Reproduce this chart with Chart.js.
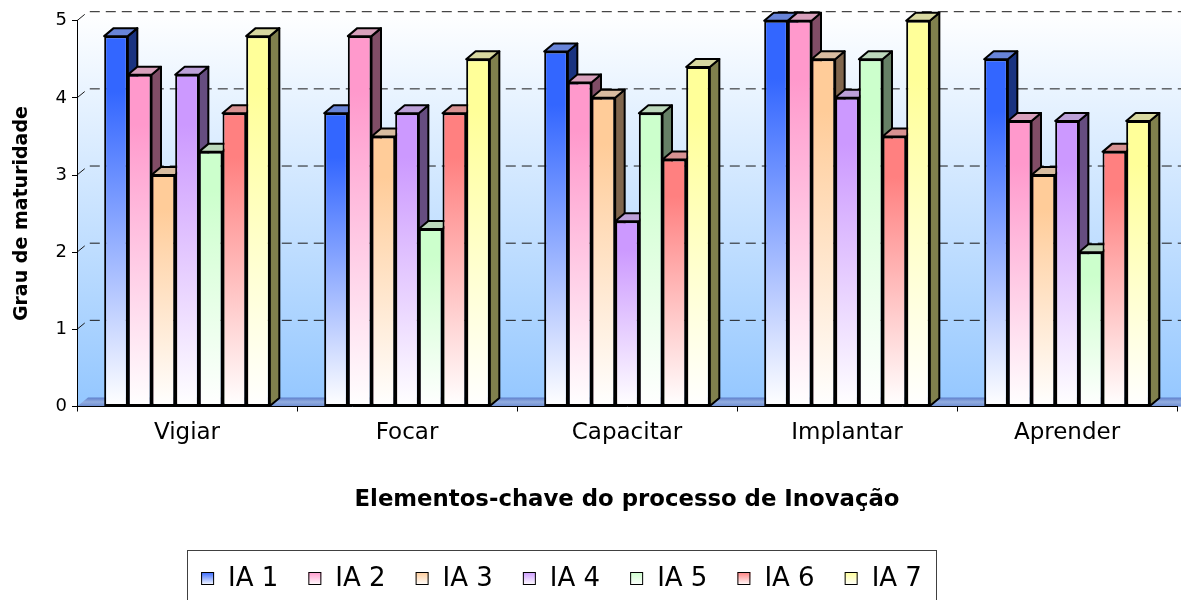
<!DOCTYPE html>
<html>
<head>
<meta charset="utf-8">
<script src="https://cdn.jsdelivr.net/npm/chart.js@4.4.1/dist/chart.umd.min.js"></script>
<style>
  html, body { margin: 0; padding: 0; background: #ffffff; }
  #wrap { width: 1181px; height: 600px; }
</style>
</head>
<body>
<div id="wrap"><canvas id="chart" width="1181" height="600"></canvas></div>
<script>
// Elementos-chave do processo de inovação: grau de maturidade por IA
const categories = ['Vigiar', 'Focar', 'Capacitar', 'Implantar', 'Aprender'];
const seriesNames = ['IA 1', 'IA 2', 'IA 3', 'IA 4', 'IA 5', 'IA 6', 'IA 7'];
const ia1 = [4.8, 3.8, 4.6, 5.0, 4.5];
const ia2 = [4.3, 4.8, 4.2, 5.0, 3.7];
const ia3 = [3.0, 3.5, 4.0, 4.5, 3.0];
const ia4 = [4.3, 3.8, 2.4, 4.0, 3.7];
const ia5 = [3.3, 2.3, 3.8, 4.5, 2.0];
const ia6 = [3.8, 3.8, 3.2, 3.5, 3.3];
const ia7 = [4.8, 4.5, 4.4, 5.0, 3.7];
const seriesColors = ['#3366FF', '#FF99CC', '#FFCC99', '#CC99FF', '#CCFFCC', '#FF8080', '#FFFF99'];
const seriesValues = [ia1, ia2, ia3, ia4, ia5, ia6, ia7];

const FONT = 'DejaVu Sans';
const BAR_DEPTH = { dx: 9.5, dy: -8 };   // oblique depth of each column
const WALL_DEPTH = { dx: 11, dy: -9 };   // back wall / floor depth

function rgb(hex) {
  const n = parseInt(hex.slice(1), 16);
  return [(n >> 16) & 255, (n >> 8) & 255, n & 255];
}
function toHex(c) {
  return '#' + c.map(v => Math.max(0, Math.min(255, Math.round(v))).toString(16).padStart(2, '0')).join('');
}
function shade(hex, f) { return toHex(rgb(hex).map(v => v * f)); }
function mix(hex, other, t) {
  const a = rgb(hex), b = rgb(other);
  return toHex(a.map((v, i) => v + (b[i] - v) * t));
}

// front face: colour at the top of the column fading to white at the floor
function frontGradient(color) {
  return (ctx) => {
    const chart = ctx.chart;
    const y = chart.scales && chart.scales.y;
    if (ctx.type !== 'data' || !y || !chart.chartArea) return color;
    const top = y.getPixelForValue(ctx.parsed.y);
    const bottom = y.getPixelForValue(0);
    const g = chart.ctx.createLinearGradient(0, top, 0, bottom);
    g.addColorStop(0, color);
    g.addColorStop(0.15, color);
    g.addColorStop(1, '#ffffff');
    return g;
  };
}

const datasets = seriesNames.map((name, i) => ({
  label: name,
  data: seriesValues[i],
  baseColor: seriesColors[i],
  backgroundColor: frontGradient(seriesColors[i]),
  borderColor: '#000000',
  borderWidth: 2,
  borderSkipped: false,
  barPercentage: 1.0,
  categoryPercentage: 0.753
}));

const depthPlugin = {
  id: 'depthPlugin',
  beforeDraw(chart) {
    const { ctx, chartArea: a } = chart;
    const yScale = chart.scales.y;
    const right = chart.width;
    ctx.save();
    // back and side wall
    const wallTop = a.top + WALL_DEPTH.dy;
    const wall = ctx.createLinearGradient(0, wallTop, 0, a.bottom + WALL_DEPTH.dy);
    wall.addColorStop(0, '#ffffff');
    wall.addColorStop(1, '#96c8ff');
    ctx.fillStyle = wall;
    ctx.beginPath();
    ctx.moveTo(a.left, a.top);
    ctx.lineTo(a.left + WALL_DEPTH.dx, wallTop);
    ctx.lineTo(right, wallTop);
    ctx.lineTo(right, a.bottom);
    ctx.lineTo(a.left, a.bottom);
    ctx.closePath();
    ctx.fill();
    // floor
    const fy = a.bottom + WALL_DEPTH.dy;
    const floor = ctx.createLinearGradient(0, fy, 0, a.bottom);
    floor.addColorStop(0, '#5f80cc');
    floor.addColorStop(0.5, '#93addf');
    floor.addColorStop(1, '#6a8bd2');
    ctx.fillStyle = floor;
    ctx.beginPath();
    ctx.moveTo(a.left, a.bottom);
    ctx.lineTo(a.left + WALL_DEPTH.dx, fy);
    ctx.lineTo(right, fy);
    ctx.lineTo(right, a.bottom);
    ctx.closePath();
    ctx.fill();
    // dashed gridlines on the back wall
    ctx.strokeStyle = '#1a1a1a';
    ctx.lineWidth = 1;
    ctx.setLineDash([10, 6]);
    yScale.ticks.forEach(t => {
      if (t.value === 0) return;
      const py = yScale.getPixelForValue(t.value);
      ctx.beginPath();
      ctx.moveTo(a.left, py);
      ctx.lineTo(a.left + WALL_DEPTH.dx, py + WALL_DEPTH.dy);
      ctx.lineTo(right, py + WALL_DEPTH.dy);
      ctx.stroke();
    });
    ctx.restore();
  },
  beforeDatasetDraw() {
    return false; // columns are painted left to right in afterDatasetsDraw
  },
  afterDatasetsDraw(chart) {
    const ctx = chart.ctx;
    const metas = chart.getSortedVisibleDatasetMetas();
    metas.forEach(meta => {
      const color = chart.data.datasets[meta.index].baseColor;
      const sideColor = shade(color, 0.5);
      const topColor = mix(color, '#a8a8a8', 0.45);
      meta.data.forEach(el => {
        const { x, y, base, width } = el.getProps(['x', 'y', 'base', 'width'], true);
        const l = x - width / 2, r = x + width / 2;
        const { dx, dy } = BAR_DEPTH;
        ctx.save();
        ctx.lineWidth = 2;
        ctx.strokeStyle = '#000000';
        ctx.lineJoin = 'round';
        // side face
        ctx.beginPath();
        ctx.moveTo(r, y);
        ctx.lineTo(r + dx, y + dy);
        ctx.lineTo(r + dx, base + dy);
        ctx.lineTo(r, base);
        ctx.closePath();
        ctx.fillStyle = sideColor;
        ctx.fill();
        ctx.stroke();
        // top face
        ctx.beginPath();
        ctx.moveTo(l, y);
        ctx.lineTo(l + dx, y + dy);
        ctx.lineTo(r + dx, y + dy);
        ctx.lineTo(r, y);
        ctx.closePath();
        ctx.fillStyle = topColor;
        ctx.fill();
        ctx.stroke();
        ctx.restore();
        el.draw(ctx, chart.chartArea);
      });
    });
  },
  afterDraw(chart) {
    // boxed legend under the axis title
    const ctx = chart.ctx;
    const box = { left: 187, right: 936, top: 550, bottom: 606 };
    const sw = 13, gap = 14, itemGap = 30;
    const textY = 585.5;
    ctx.save();
    ctx.strokeStyle = '#404040';
    ctx.lineWidth = 1;
    ctx.strokeRect(box.left + 0.5, box.top + 0.5, box.right - box.left, box.bottom - box.top);
    ctx.font = '26px "' + FONT + '"';
    ctx.textBaseline = 'alphabetic';
    ctx.textAlign = 'left';
    const ds = chart.data.datasets;
    const widths = ds.map(d => sw + gap + ctx.measureText(d.label).width);
    const total = widths.reduce((s, w) => s + w, 0) + itemGap * (ds.length - 1);
    let x = (box.left + box.right) / 2 - total / 2;
    ds.forEach((d, i) => {
      const sy = 572;
      const g = ctx.createLinearGradient(0, sy, 0, sy + sw);
      g.addColorStop(0, d.baseColor);
      g.addColorStop(1, '#ffffff');
      ctx.fillStyle = g;
      ctx.fillRect(x, sy, sw, sw);
      ctx.strokeStyle = '#000000';
      ctx.strokeRect(x + 0.5, sy + 0.5, sw - 1, sw - 1);
      ctx.fillStyle = '#000000';
      ctx.fillText(d.label, x + sw + gap, textY);
      x += widths[i] + itemGap;
    });
    ctx.restore();
  }
};

new Chart(document.getElementById('chart'), {
  type: 'bar',
  data: { labels: categories, datasets },
  plugins: [depthPlugin],
  options: {
    responsive: false,
    devicePixelRatio: 1,
    animation: false,
    events: [],
    layout: { padding: { top: 20.7, right: 4, bottom: 0, left: 0 } },
    plugins: {
      legend: { display: false },
      tooltip: { enabled: false }
    },
    scales: {
      x: {
        afterFit(scale) { scale.height = 193.5; },
        grid: { display: true, drawOnChartArea: false, drawTicks: true, tickLength: 5, color: '#000000', offset: true },
        border: { display: true, color: '#000000', width: 1 },
        ticks: { color: '#000000', font: { family: FONT, size: 23 }, padding: 8 },
        title: {
          display: true,
          text: 'Elementos-chave do processo de Inovação',
          color: '#000000',
          font: { family: FONT, size: 22.8, weight: 'bold' },
          padding: { top: 0, bottom: 86 }
        }
      },
      y: {
        min: 0,
        max: 5,
        afterFit(scale) { scale.width = 77; },
        grid: { display: true, drawOnChartArea: false, drawTicks: true, tickLength: 5, color: '#000000' },
        border: { display: true, color: '#000000', width: 1 },
        ticks: { stepSize: 1, color: '#000000', font: { family: FONT, size: 18 }, padding: 5 },
        title: {
          display: true,
          text: 'Grau de maturidade',
          color: '#000000',
          font: { family: FONT, size: 19, weight: 'bold' },
          padding: { top: 10.5, bottom: 0 }
        }
      }
    }
  }
});
</script>
</body>
</html>
